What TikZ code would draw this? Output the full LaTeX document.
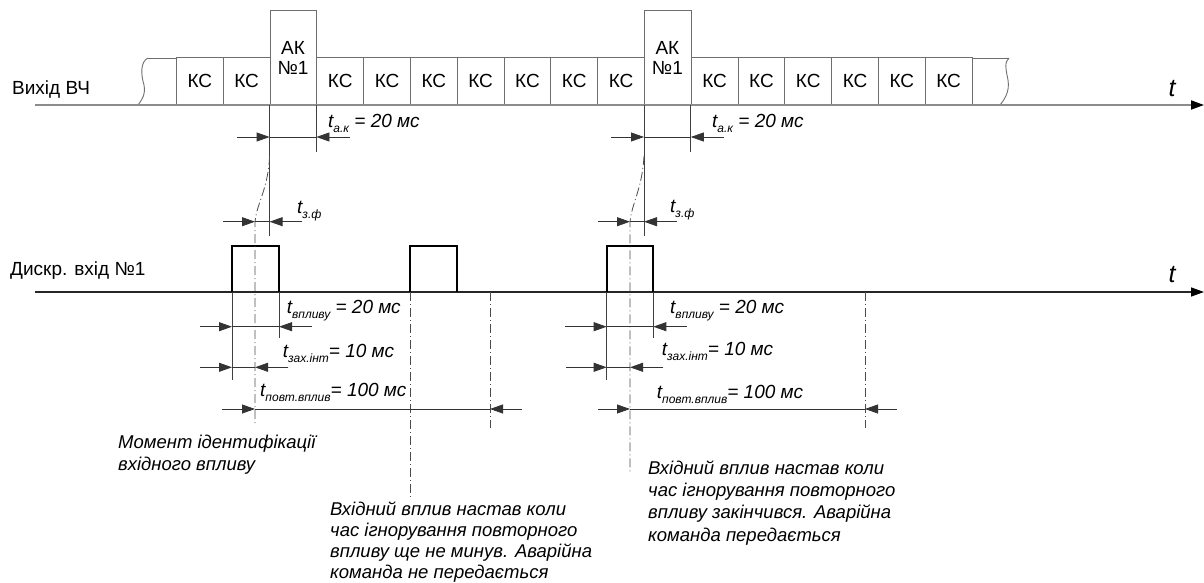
\documentclass[tikz,border=0pt]{standalone}
\usepackage{fontspec}
\setmainfont{Liberation Sans}
\usetikzlibrary{arrows.meta}
\definecolor{boxgray}{RGB}{110,110,110}
\definecolor{axgray}{RGB}{140,140,140}
\newcommand\dimsub[1]{\raisebox{-5pt}{\fontsize{12}{12}\selectfont #1}}
\newcommand\dimarrows[5]{%
  \draw[dim] (#3,#1) -- (#4,#1);
  \draw[dim,tip] (#2,#1) -- (#3,#1);
  \draw[dim,tip] (#5,#1) -- (#4,#1);
}
\begin{document}
\begin{tikzpicture}[x=1pt,y=-1pt,
  cell/.style={draw=boxgray, fill=white, line width=0.9pt, minimum width=46.8pt, minimum height=47pt, inner sep=0pt, anchor=south west, font=\fontsize{19}{22}\selectfont},
  akcell/.style={cell, minimum height=94pt},
  boxline/.style={draw=boxgray, line width=0.9pt},
  dim/.style={draw=black!80, line width=0.8pt},
  tip/.style={-{Triangle[length=13pt,width=9pt]}},
  ext/.style={draw=black!75, line width=0.8pt},
  dd/.style={draw=black!70, line width=0.8pt, dash pattern=on 9pt off 3pt on 1pt off 3pt},
  pulse/.style={draw=black, line width=1.8pt},
  lbl/.style={font=\fontsize{19}{20}\selectfont, inner sep=0pt},
  note/.style={font=\fontsize{18.5}{22.3}\selectfont\itshape, align=left, inner sep=0pt, anchor=north west},
  dimlbl/.style={inner sep=0pt, anchor=base west, font=\fontsize{19}{22}\selectfont\itshape},
  tlbl/.style={inner sep=0pt, font=\fontsize{25}{25}\selectfont\itshape},
]
\useasboundingbox (0,0) rectangle (1204,583);

% ---- top strip (Вихід ВЧ)
\draw[boxline] (148,58) -- (1009,58);
\draw[boxline] (148,58) .. controls (140,62) and (141,75) .. (144,85) .. controls (146,95) and (141,101) .. (138,105);
\draw[boxline] (1009,58) .. controls (1004,62) and (1006,70) .. (1008,80) .. controls (1010,92) and (1004,100) .. (1000,105);
\foreach \x/\n in {176/c1,222.8/c2,316.4/c3,363.2/c4,410/c5,456.8/c6,503.6/c7,550.4/c8,597.2/c9,690.8/c10,737.6/c11,784.4/c12,831.2/c13,878/c14,924.8/c15}
  \node[cell] (\n) at (\x,105) {КС};
\node[akcell] (ak1) at (269.6,105) {};
\node[akcell] (ak2) at (644,105) {};
\node[lbl, align=center] (ak1l) at (293,58) {АК\\№1};
\node[lbl, align=center] (ak2l) at (667.4,58) {АК\\№1};

% ---- axes
\coordinate (a1s) at (35,105);
\coordinate (a1e) at (1204,105);
\coordinate (a2s) at (35,292);
\coordinate (a2e) at (1204,292);
\draw[draw=axgray, line width=1.8pt, -{Triangle[length=13pt,width=9pt,color=black]}] (a1s) -- (a1e);
\draw[draw=black!85, line width=1.3pt, -{Triangle[length=13pt,width=9pt,color=black]}] (a2s) -- (a2e);
\node[tlbl] (t1) at (1172,89) {t};
\node[tlbl] (t2) at (1172,275) {t};
\node[lbl, anchor=west] (vych) at (12,90) {Вихід ВЧ};
\node[lbl, anchor=west] (dyskr) at (10,271) {Дискр. вхід №1};

% ---- pulses
\draw[pulse] (232,292) -- (232,245.7) -- (279,245.7) -- (279,292);
\draw[pulse] (410,292) -- (410,245.7) -- (456.7,245.7) -- (456.7,292);
\draw[pulse] (606.7,292) -- (606.7,245.7) -- (653.3,245.7) -- (653.3,292);

% ---- extension lines
\draw[ext] (269.6,105) -- (269.6,236);
\draw[ext] (316.4,105) -- (316.4,152);
\draw[ext] (644,105) -- (644,236);
\draw[ext] (690.8,105) -- (690.8,152);
\draw[ext] (232,292) -- (232,380);
\draw[ext] (279,292) -- (279,338);
\draw[ext] (606.7,292) -- (606.7,380);
\draw[ext] (653.3,292) -- (653.3,338);
\draw[dd] (410,292) -- (410,497);
\draw[dd] (490,292) -- (490,428);
\draw[dd] (865,292) -- (865,428);
\draw[dd] (269.6,156) .. controls (268,190) and (257,202) .. (255,222) -- (255,425);
\draw[dd] (644,156) .. controls (642,190) and (632,202) .. (630,222) -- (630,472);

% ---- dimensions
\dimarrows{137}{237}{269.6}{316.4}{350}
\dimarrows{137}{611}{644}{690.8}{724}
\dimarrows{221.7}{223}{255}{269.6}{301.7}
\dimarrows{221.7}{598}{630}{644}{676.7}
\dimarrows{326.7}{200}{232}{279}{311.7}
\dimarrows{326.7}{565}{606.7}{653.3}{686.7}
\dimarrows{367.3}{200}{232}{255}{288}
\dimarrows{367.3}{566}{606.7}{630}{663.3}
\dimarrows{409}{221.7}{255}{490}{521.7}
\dimarrows{409}{598}{630}{865}{896.7}

\node[dimlbl] (lak1) at (328,128) {t\dimsub{а.к} = 20 мс};
\node[dimlbl] (lak2) at (712,128) {t\dimsub{а.к} = 20 мс};
\node[dimlbl] (lzf1) at (297,213) {t\dimsub{з.ф}};
\node[dimlbl] (lzf2) at (670,212) {t\dimsub{з.ф}};
\node[dimlbl] (lvp1) at (286.7,313) {t\dimsub{впливу} = 20 мс};
\node[dimlbl] (lvp2) at (670,313) {t\dimsub{впливу} = 20 мс};
\node[dimlbl] (lzi1) at (282.7,357) {t\dimsub{зах.інт}= 10 мс};
\node[dimlbl] (lzi2) at (661.7,355) {t\dimsub{зах.інт}= 10 мс};
\node[dimlbl] (lpv1) at (260,396) {t\dimsub{повт.вплив}= 100 мс};
\node[dimlbl] (lpv2) at (656.7,398) {t\dimsub{повт.вплив}= 100 мс};

% ---- notes
\node[note] (n1) at (118,434.5) {Момент ідентифікації\\вхідного впливу};
\node[note, font=\fontsize{18.5}{20.8}\selectfont\itshape] (n2) at (330,502) {Вхідний вплив настав коли\\час ігнорування повторного\\впливу ще не минув. Аварійна\\команда не передається};
\node[note] (n3) at (648,460.5) {Вхідний вплив настав коли\\час ігнорування повторного\\впливу закінчився. Аварійна\\команда передається};
\end{tikzpicture}
\end{document}
